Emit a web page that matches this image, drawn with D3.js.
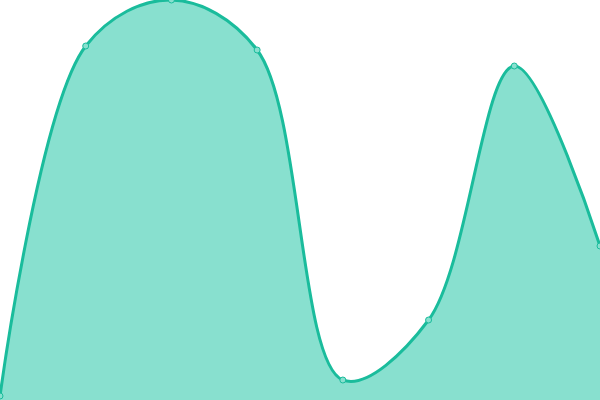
<!DOCTYPE html>
<html>
<head>
<meta charset="utf-8">
<script src="https://cdn.jsdelivr.net/npm/d3@7"></script>
<style>
  body { margin: 0; overflow: hidden; background: #fff; }
</style>
</head>
<body>
<div id="chart-area"></div>
<script>
const width = 600;
const height = 400;

// data
const categories = [0, 1, 2, 3, 4, 5, 6, 7];
const values = [1, 88.5, 100, 87.5, 5, 20, 83.5, 38.5];

const data = categories.map((c, i) => ({ x: c, y: values[i] }));

const x = d3.scaleLinear()
  .domain([0, 7])
  .range([0, width]);

const y = d3.scaleLinear()
  .domain([0, 100])
  .range([height, 0]);

const svg = d3.select('#chart-area').append('svg')
  .attr('width', width)
  .attr('height', height)
  .style('display', 'block')
  .style('overflow', 'visible');

const curve = d3.curveCatmullRom.alpha(0.5);

const area = d3.area()
  .x(d => x(d.x))
  .y0(y(0))
  .y1(d => y(d.y))
  .curve(curve);

const line = d3.line()
  .x(d => x(d.x))
  .y(d => y(d.y))
  .curve(curve);

svg.append('path')
  .datum(data)
  .attr('d', area)
  .attr('fill', '#88e0cf');

svg.append('path')
  .datum(data)
  .attr('d', line)
  .attr('fill', 'none')
  .attr('stroke', '#1abc9c')
  .attr('stroke-width', 3);

svg.selectAll('circle')
  .data(data)
  .enter()
  .append('circle')
  .attr('cx', d => x(d.x))
  .attr('cy', d => y(d.y))
  .attr('r', 3)
  .attr('fill', '#88e0cf')
  .attr('stroke', '#1abc9c')
  .attr('stroke-width', 1);
</script>
</body>
</html>
